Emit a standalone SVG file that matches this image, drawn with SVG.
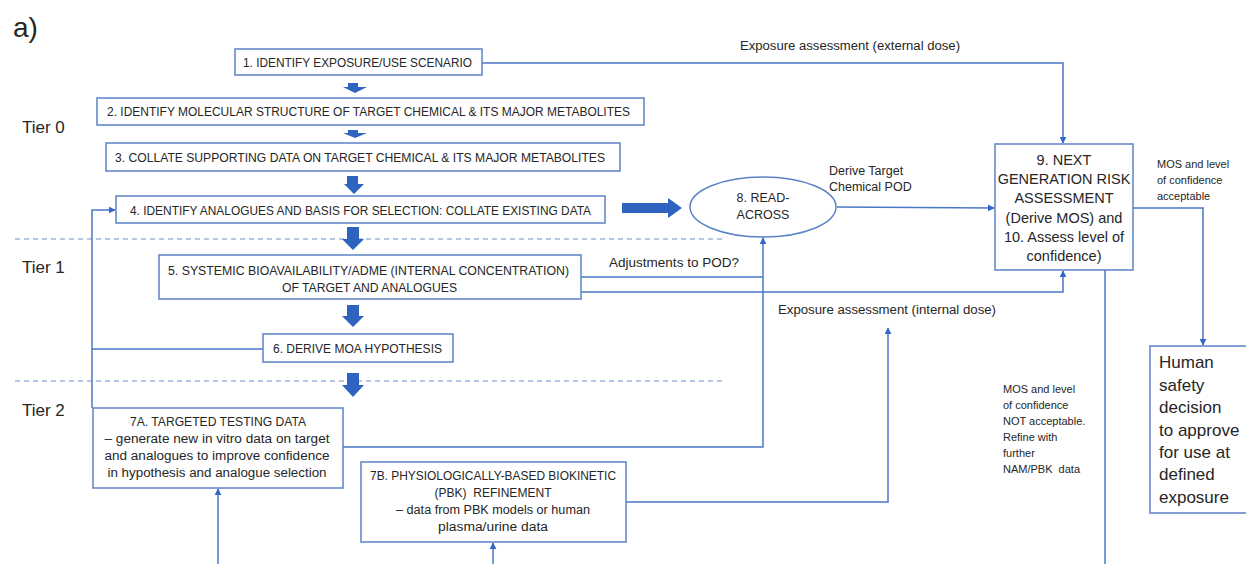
<svg xmlns="http://www.w3.org/2000/svg" width="1246" height="564" viewBox="0 0 1246 564">
<defs>
<style>
text{font-family:"Liberation Sans",Arial,sans-serif;fill:#262626}
.box{fill:#fff;stroke:#5b82c8;stroke-width:1.5}
.t{font-size:12.5px}
.c{text-anchor:middle}
.ln{fill:none;stroke:#4a78c9;stroke-width:1.5}
.dash{fill:none;stroke:#6f8fd0;stroke-width:1.2;stroke-dasharray:5 4}
.blk{fill:#2f63c0}
.sm{font-size:11px}
.tier{font-size:17px}
</style>
<marker id="ah" viewBox="0 0 10 10" refX="9" refY="5" markerWidth="7" markerHeight="7" orient="auto" markerUnits="userSpaceOnUse">
<path d="M0,0 L10,5 L0,10 z" fill="#3568c4"/>
</marker>
</defs>
<rect width="1246" height="564" fill="#fff"/>
<text x="13" y="37" style="font-size:28px">a)</text>
<text class="tier" x="22" y="133">Tier 0</text>
<text class="tier" x="22" y="273">Tier 1</text>
<text class="tier" x="22" y="416">Tier 2</text>
<line class="dash" x1="15" y1="239" x2="725" y2="239"/>
<line class="dash" x1="15" y1="381" x2="725" y2="381"/>
<g id="connectors">
<polyline class="ln" points="482,63 1063,63 1063,143" marker-end="url(#ah)"/>
<polyline class="ln" points="837,207 994,208" marker-end="url(#ah)"/>
<polyline class="ln" points="1133,208 1203,208 1203,345" marker-end="url(#ah)"/>
<polyline class="ln" points="581,277 763,277"/>
<polyline class="ln" points="343,447 763,447 763,238" marker-end="url(#ah)"/>
<polyline class="ln" points="581,292 1063,292 1063,271" marker-end="url(#ah)"/>
<polyline class="ln" points="626,502 888,502 888,328" marker-end="url(#ah)"/>
<polyline class="ln" points="1105,270 1105,564"/>
<polyline class="ln" points="263,349 92,349"/>
<polyline class="ln" points="92,408 92,210 115,210" marker-end="url(#ah)"/>
<polyline class="ln" points="218,564 218,489" marker-end="url(#ah)"/>
<polyline class="ln" points="493,564 493,543" marker-end="url(#ah)"/>
<path class="blk" d="M348,83 h10 v4 h9 l-12,6 l-12,-6 h5 z"/>
<path class="blk" d="M348,130 h10 v3 h9 l-12,5 l-12,-5 h5 z"/>
<path class="blk" d="M347,176 h11 v8 h6 l-10,10 l-10,-10 h3 z"/>
<path class="blk" d="M347,227 h12 v12 h5 l-11,11 l-11,-11 h5 z"/>
<path class="blk" d="M347,305 h12 v11 h5 l-11,11 l-11,-11 h5 z"/>
<path class="blk" d="M347,373 h12 v12 h5 l-11,12 l-11,-12 h5 z"/>
<path class="blk" d="M622,203 h46 v-5 l14,10 l-14,10 v-5 h-46 z"/>
<text class="t" x="740" y="50" textLength="220" lengthAdjust="spacingAndGlyphs">Exposure assessment (external dose)</text>
<text class="t" x="829" y="175">Derive Target</text>
<text class="t" x="829" y="191">Chemical POD</text>
<text class="t" x="609" y="267" textLength="130" lengthAdjust="spacingAndGlyphs">Adjustments to POD?</text>
<text class="t" x="778" y="314" textLength="218" lengthAdjust="spacingAndGlyphs">Exposure assessment (internal dose)</text>
<text class="sm" x="1157" y="168">MOS and level</text>
<text class="sm" x="1157" y="184">of confidence</text>
<text class="sm" x="1157" y="200">acceptable</text>
<text class="sm" x="1003" y="393">MOS and level</text>
<text class="sm" x="1003" y="409">of confidence</text>
<text class="sm" x="1003" y="425">NOT acceptable.</text>
<text class="sm" x="1003" y="441">Refine with</text>
<text class="sm" x="1003" y="457">further</text>
<text class="sm" x="1003" y="473">NAM/PBK&#160; data</text>
</g>
<g id="n1"><rect class="box" x="235" y="49" width="247" height="26"/><text class="t" x="243" y="67" textLength="229" lengthAdjust="spacingAndGlyphs">1. IDENTIFY EXPOSURE/USE SCENARIO</text></g>
<g id="n2"><rect class="box" x="97" y="98" width="547" height="27"/><text class="t" x="107" y="116" textLength="523" lengthAdjust="spacingAndGlyphs">2. IDENTIFY MOLECULAR STRUCTURE OF TARGET CHEMICAL &amp; ITS MAJOR METABOLITES</text></g>
<g id="n3"><rect class="box" x="106" y="143" width="514" height="28"/><text class="t" x="115" y="162" textLength="490" lengthAdjust="spacingAndGlyphs">3. COLLATE SUPPORTING DATA ON TARGET CHEMICAL &amp; ITS MAJOR METABOLITES</text></g>
<g id="n4"><rect class="box" x="116" y="196" width="489" height="27"/><text class="t" x="130" y="215" textLength="461" lengthAdjust="spacingAndGlyphs">4. IDENTIFY ANALOGUES AND BASIS FOR SELECTION: COLLATE EXISTING DATA</text></g>
<g id="n5"><rect class="box" x="159" y="255" width="422" height="44"/><text class="t" x="168" y="275" textLength="401" lengthAdjust="spacingAndGlyphs">5. SYSTEMIC BIOAVAILABILITY/ADME (INTERNAL CONCENTRATION)</text><text class="t" x="282" y="292" textLength="175" lengthAdjust="spacingAndGlyphs">OF TARGET AND ANALOGUES</text></g>
<g id="n6"><rect class="box" x="263" y="334" width="190" height="28"/><text class="t" x="273" y="353" textLength="169" lengthAdjust="spacingAndGlyphs">6. DERIVE MOA HYPOTHESIS</text></g>
<g id="n7a"><rect class="box" x="93" y="408" width="250" height="80"/>
<text class="t c" x="218" y="426" textLength="176" lengthAdjust="spacingAndGlyphs">7A. TARGETED TESTING DATA</text>
<text class="t c" x="217" y="443" textLength="225" lengthAdjust="spacingAndGlyphs">– generate new in vitro data on target</text>
<text class="t c" x="217" y="460" textLength="225" lengthAdjust="spacingAndGlyphs">and analogues to improve confidence</text>
<text class="t c" x="217" y="477" textLength="219" lengthAdjust="spacingAndGlyphs">in hypothesis and analogue selection</text></g>
<g id="n7b"><rect class="box" x="361" y="462" width="265" height="80"/>
<text class="t c" x="493" y="480" textLength="246" lengthAdjust="spacingAndGlyphs">7B. PHYSIOLOGICALLY-BASED BIOKINETIC</text>
<text class="t c" x="493" y="497" textLength="117" lengthAdjust="spacingAndGlyphs">(PBK)&#160; REFINEMENT</text>
<text class="t c" x="493" y="514" textLength="194" lengthAdjust="spacingAndGlyphs">– data from PBK models or human</text>
<text class="t c" x="493" y="531" textLength="110" lengthAdjust="spacingAndGlyphs">plasma/urine data</text></g>
<g id="n8"><ellipse class="box" cx="763" cy="207" rx="73" ry="30"/>
<text class="t c" x="763" y="202">8. READ-</text>
<text class="t c" x="763" y="219">ACROSS</text></g>
<g id="n9"><rect class="box" x="995" y="144" width="138" height="126"/>
<g style="font-size:14.5px">
<text class="c" x="1064" y="165">9. NEXT</text>
<text class="c" x="1064" y="184">GENERATION RISK</text>
<text class="c" x="1064" y="203">ASSESSMENT</text>
<text class="c" x="1064" y="223">(Derive MOS) and</text>
<text class="c" x="1064" y="242">10. Assess level of</text>
<text class="c" x="1064" y="261">confidence)</text></g></g>
<g id="human"><rect class="box" x="1150" y="346" width="100" height="167"/>
<g style="font-size:17px">
<text x="1159" y="368">Human</text>
<text x="1159" y="391">safety</text>
<text x="1159" y="413">decision</text>
<text x="1159" y="436">to approve</text>
<text x="1159" y="458">for use at</text>
<text x="1159" y="480">defined</text>
<text x="1159" y="503">exposure</text></g></g>
</svg>
